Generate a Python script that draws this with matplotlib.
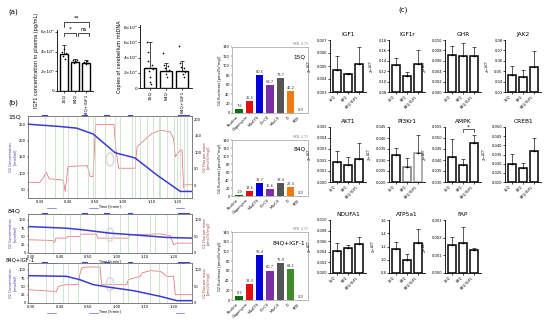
import matplotlib
matplotlib.use("Agg")
import matplotlib.pyplot as plt
from matplotlib.patches import Ellipse
import numpy as np

W, H = 550, 322
fig = plt.figure(figsize=(5.5, 3.22), dpi=100)
plt.rcParams['font.family'] = ['DejaVu Sans']

def ax_at(x0, y0, x1, y1):
    return fig.add_axes([x0 / W, 1 - y1 / H, (x1 - x0) / W, (y1 - y0) / H])

groups = ["15Q", "84Q", "84Q+IGF1"]

# ---------------- panel (a) ----------------
igf1_plasma = [38000, 29800, 28400]
igf1_plasma_err = [8700, 2800, 2600]
igf1_plasma_pts = [[40000, 36000, 43000, 33000, 39000],
                   [31000, 28000, 30500, 29000, 32000],
                   [29000, 27500, 30500, 28000]]
mtdna = [2.7, 2.3, 2.3]
mtdna_err = [3.4, 1.0, 1.3]
mtdna_pts = [[6.1, 4.8, 3.5, 2.2, 1.5, 0.8, 0.5, 3.0, 2.5],
             [4.6, 3.0, 2.6, 2.2, 1.8, 1.5, 2.9, 2.4],
             [5.5, 3.3, 2.8, 2.3, 1.9, 1.4, 2.6, 2.1]]

def small_bar(ax, vals, errs, pts, ymax, ticks, ticklabels, fs=3.2):
    x = np.arange(len(vals))
    ax.bar(x, vals, width=0.75, facecolor='white', edgecolor='black', linewidth=1.0, zorder=2)
    ax.errorbar(x, vals, yerr=[np.zeros(len(errs)), errs], fmt='none', ecolor='black',
                elinewidth=0.5, capsize=1.2, capthick=0.5, zorder=3)
    if pts is not None:
        for i, p in enumerate(pts):
            offs = np.linspace(-0.18, 0.18, len(p))
            ax.scatter(i + offs, p, s=1.4, color='black', zorder=4, linewidths=0)
    ax.set_xlim(-0.6, len(vals) - 0.4)
    ax.set_ylim(ticks[0], ymax)
    ax.set_yticks(ticks)
    ax.set_yticklabels(ticklabels, fontsize=fs)
    ax.set_xticks(x)
    ax.spines['top'].set_visible(False)
    ax.spines['right'].set_visible(False)
    for s in ['left', 'bottom']:
        ax.spines[s].set_linewidth(0.6)
    ax.tick_params(length=1.2, width=0.5, pad=0.8)

axa1 = ax_at(57, 30, 93, 91)
small_bar(axa1, igf1_plasma, igf1_plasma_err, igf1_plasma_pts, 62000,
          [0, 20000, 40000, 60000], ["0", "2×10⁴", "4×10⁴", "6×10⁴"])
axa1.set_xticklabels(groups, rotation=90, fontsize=3.2)
axa1.set_ylabel("IGF1 concentration in plasma (pg/mL)", fontsize=3.6, labelpad=1)

def bracket(fig_x0, fig_x1, y, txt, drop=4):
    fig.add_artist(plt.Line2D([fig_x0 / W, fig_x0 / W, fig_x1 / W, fig_x1 / W],
                              [1 - (y + drop) / H, 1 - y / H, 1 - y / H, 1 - (y + drop) / H],
                              color='black', lw=0.5))
    fig.text((fig_x0 + fig_x1) / 2 / W, 1 - (y - 1) / H, txt, fontsize=4, ha='center', va='bottom')
bracket(64, 89, 22, "**", drop=5)
bracket(64, 76, 33, "*", drop=3)
bracket(78, 89, 33, "ns", drop=3)

axa2 = ax_at(140, 25, 192, 88)
small_bar(axa2, mtdna, mtdna_err, mtdna_pts, 8.3,
          [0, 2, 4, 6, 8], ["0", "2×10⁵", "4×10⁵", "6×10⁵", "8×10⁵"])
axa2.set_xticklabels(groups, rotation=90, fontsize=3.2)
axa2.set_ylabel("Copies of cerebellum mtDNA", fontsize=3.6, labelpad=1)

fig.text(8 / W, 1 - 12 / H, "(a)", fontsize=5, va='center')
fig.text(8 / W, 1 - 103 / H, "(b)", fontsize=5, va='center')
fig.text(398 / W, 1 - 10 / H, "(c)", fontsize=5, va='center')

# ---------------- panel (b) oxygraph traces ----------------
ticks_15 = [7, 24.5, 41, 58, 75.5, 91]
ticks_84 = [2, 19.4, 36.7, 54.1, 71.4, 88.8]
tick_lab = ["0:30", "0:40", "0:50", "1:00", "1:10", "1:20"]

t15_blue = [0, 19.4, 29.6, 39.8, 53.1, 65.3, 78.6, 92.9, 100]
o2_15_blue = [250, 243, 238, 220, 163, 147, 95, 45, 45]
t15_red = [0, 7.1, 9.2, 11.2, 12.9, 20.4, 21.4, 22.0, 22.7, 24.3, 36.1, 38.0, 39.6, 40.0,
           41.2, 52.4, 53.5, 55.3, 65.3, 66.5, 72.0, 75.5, 80.6, 86.7, 88.8, 89.8, 92.9,
           93.9, 94.9, 95.9, 100]
fl_15_red = [10, 9, 22, 40, 20, 17, 14, 2, -18, 57, 60, 27, 27, 60,
             184, 184, 112, 52, 52, 117, 142, 157, 167, 162, 142, 87, 107, 107, -8, 2, 2]

t84_blue = [0, 23.5, 33.7, 50, 64.3, 84.7, 100]
o2_84_blue = [80, 75, 70, 60, 55, 47, 45]
t84_red = [0, 15.3, 16.3, 17.0, 23.5, 24.0, 31.6, 32.2, 41.8, 42.5, 61.2, 62.0, 80.6, 86.7,
           88.8, 90.8, 100]
fl_84_red = [40, 38, 32, 45, 45, 50, 50, 57, 57, 45, 45, 55, 58, 52, 25, 30, 30]

tig_blue = [0, 23.5, 31.6, 39.8, 50, 64.3, 80.6, 90.8, 100]
o2_ig_blue = [82, 80, 70, 55, 47, 37, 20, 7, 7]
tig_red = [0, 15.3, 17.3, 18.4, 23.5, 30.6, 31.6, 32.7, 35.7, 43.9, 44.9, 60.2, 61.2, 68.4,
           69.4, 74.5, 80.6, 84.7, 88.8, 89.8, 100]
fl_ig_red = [40, 35, 33, 50, 55, 55, 85, 105, 108, 108, 55, 55, 70, 80, 90, 97, 95, 80, 80, 25, 25]

events_15 = [10.2, 16.3, 21.4, 24.5, 29.6, 36.7, 39.8, 40.8, 46.9, 53.1, 56.1, 63.3, 65.3,
             68.4, 72.4, 76.5, 79.6, 80.6, 84.7, 88.8, 90.8, 92.9, 94.9, 96.9]
events_84 = [10.2, 15.3, 22.4, 25.5, 31.6, 40.8, 49, 56.1, 61.2, 66.3, 74.5, 77.6, 84.7, 90.8]
events_ig = [11.2, 15.3, 21.4, 24.5, 30.6, 42.9, 50, 58.2, 61.2, 67.3, 74.5, 79.6, 84.7, 92.9]
marks_top = [10.2, 34.7, 47.9, 62.2, 92.9, 96.9]
marks_bot = [14.3, 40.0, 92.9]

def trace(y0, y1, tb, ob, tr, fr, ev, bl, rl, lticks, rticks, xt):
    ax = ax_at(28, y0, 192, y1)
    hpx = y1 - y0
    for i, e in enumerate(ev):
        c = '#b8dcb8' if i % 3 else '#d0d0d0'
        ax.axvline(e, color=c, lw=0.5, zorder=0)
    ax.add_patch(Ellipse((0.5, 0.47), 0.045, 0.16 * 82 / hpx, transform=ax.transAxes,
                         facecolor='none', edgecolor='#dddddd', lw=1.2, zorder=1))
    ax.plot(tb, ob, color='#3a3ad6', lw=1.1, zorder=3)
    ax.set_xlim(0, 100)
    ax.set_ylim(*bl)
    ax.set_yticks(lticks)
    ax.tick_params(labelsize=2.6, length=1, width=0.3, pad=0.6)
    ax.set_xticks(xt)
    ax.set_xticklabels(tick_lab)
    for s in ax.spines.values():
        s.set_linewidth(0.4)
        s.set_color('#666666')
    ax.set_ylabel("O2 Concentration\n[nmol/ml]", fontsize=2.4, labelpad=1, color='#333399')
    tr_x = ax.get_xaxis_transform()
    ax.text(50, -6.3 / hpx, "Time [h:min]", fontsize=2.4, ha='center', va='top',
            transform=tr_x)
    for m in marks_top:
        ax.plot([m - 1.5, m + 1.5], [1.0 + 0.8 / hpx] * 2, color='#4444cc', lw=0.8,
                transform=tr_x, clip_on=False)
    for m in marks_bot:
        ax.plot([m - 2.5, m + 2.5], [-9.5 / hpx] * 2, color='#6666dd', lw=0.5,
                transform=tr_x, clip_on=False)
    ax2 = ax.twinx()
    ax2.plot(tr, fr, color='#e87070', lw=0.55, zorder=2)
    ax2.set_ylim(*rl)
    ax2.set_yticks(rticks)
    ax2.tick_params(labelsize=2.6, length=1, width=0.3, pad=0.6)
    ax2.set_ylabel("O2 Flux per mass\n[pmol/(s*mg)]", fontsize=2.4, labelpad=1, color='#993333')
    for s in ax2.spines.values():
        s.set_linewidth(0.4)
        s.set_color('#666666')
    ax.set_zorder(ax2.get_zorder() + 1)
    ax.patch.set_visible(False)
    return ax

trace(116, 198, t15_blue, o2_15_blue, t15_red, fl_15_red, events_15,
      (25, 275), (-38, 210), [50, 100, 150, 200, 250], [0, 50, 100, 150, 200], ticks_15)
trace(214, 253, t84_blue, o2_84_blue, t84_red, fl_84_red, events_84,
      (0, 118), (0, 118), [0, 25, 50, 75, 100], [0, 50, 100], ticks_84)
trace(263, 303, tig_blue, o2_ig_blue, tig_red, fl_ig_red, events_ig,
      (0, 120), (0, 120), [0, 25, 50, 75, 100], [0, 50, 100], ticks_84)
fig.text(8 / W, 1 - 117 / H, "15Q", fontsize=4.5, va='center')
fig.text(8 / W, 1 - 211 / H, "84Q", fontsize=4.5, va='center')
fig.text(6 / W, 1 - 260.5 / H, "84Q+IGF-1", fontsize=3.8, va='center')

# ---------------- O2 flux bar charts ----------------
states = ["Routine", "Oligomycin", "MaxETS", "CI+CII", "MaxCII", "CI", "ROX"]
flux_15q = [7.6, 25.5, 80.5, 58.7, 73.7, 46.2, 0.0]
flux_84q = [1.9, 13.6, 31.7, 16.6, 33.4, 22.4, 0.0]
flux_igf = [8.3, 33.3, 92.4, 60.7, 75.9, 64.1, 0.0]
cols_a = ['#0a6e0a', '#e01010', '#0000dd', '#7a2fa8', '#555555', '#ee7a10', '#ffffff']
cols_c = ['#0a6e0a', '#e01010', '#0000dd', '#7a2fa8', '#555555', '#3f8a2a', '#ffffff']

def fluxbar(y0, y1, vals, cols, label):
    ax = ax_at(232, y0, 308, y1)
    x = np.arange(len(vals))
    ax.bar(x, vals, width=0.72, color=cols, edgecolor='none')
    for xi, v in zip(x, vals):
        ax.text(xi, v + 2.5, f"{v:.1f}", fontsize=2.6, ha='center', va='bottom', color='#333333')
    ax.set_xlim(-0.7, len(vals) - 0.3)
    ax.set_ylim(0, 140)
    ax.set_yticks(range(0, 141, 20))
    ax.set_xticks(x)
    ax.set_xticklabels(states, rotation=45, ha='right', fontsize=2.5)
    ax.tick_params(labelsize=2.5, length=1, width=0.3, pad=0.6)
    for s in ax.spines.values():
        s.set_linewidth(0.4)
        s.set_color('#888888')
    ax.set_ylabel("O2 flux/mass [pmol/(s*mg)]", fontsize=2.5, labelpad=1)
    ax.text(0.97, 0.88, label, transform=ax.transAxes, fontsize=4.2, ha='right', va='top')
    ax.text(1.0, 1.02, "RKN: 4.73", transform=ax.transAxes, fontsize=2.2, ha='right',
            va='bottom', color='#888888')

fluxbar(47, 113, flux_15q, cols_a, "15Q")
fluxbar(140, 196, flux_84q, cols_a, "84Q")
fluxbar(232, 300, flux_igf, cols_c, "84Q+IGF-1")

# ---------------- panel (c) qPCR ----------------
genes = ["IGF1", "IGF1r", "GHR", "JAK2", "AKT1", "PI3Kr1", "AMPK", "CREB1",
         "NDUFA1", "ATP5a1", "FAP"]
expr = {
    "IGF1":   [0.0047, 0.0044, 0.00515],
    "IGF1r":  [0.1316, 0.111, 0.133],
    "GHR":    [0.0072, 0.0070, 0.0069],
    "JAK2":   [0.0464, 0.0448, 0.0537],
    "AKT1":   [0.0018, 0.00158, 0.00206],
    "PI3Kr1": [0.0325, 0.027, 0.033],
    "AMPK":   [0.0412, 0.0378, 0.0478],
    "CREB1":  [0.030, 0.0278, 0.0369],
    "NDUFA1": [0.0042, 0.0048, 0.0054],
    "ATP5a1": [1.165, 1.0, 1.26],
    "FAP":    [0.00161, 0.00167, 0.00129],
}
expr_top = {
    "IGF1":   [0.0058, 0.0045, 0.0065],
    "IGF1r":  [0.146, 0.118, 0.161],
    "GHR":    [0.0089, 0.0094, 0.0086],
    "JAK2":   [0.0547, 0.0507, 0.069],
    "AKT1":   [0.0028, 0.00225, 0.00355],
    "PI3Kr1": [0.0356, 0.031, 0.0415],
    "AMPK":   [0.0495, 0.0403, 0.0514],
    "CREB1":  [0.0355, 0.0305, 0.0442],
    "NDUFA1": [0.0056, 0.0053, 0.0068],
    "ATP5a1": [1.27, 1.09, 1.46],
    "FAP":    [0.00205, 0.0026, 0.0014],
}
yticks_c = {
    "IGF1":   [0.003, 0.004, 0.005, 0.006, 0.007],
    "IGF1r":  [0.08, 0.10, 0.12, 0.14, 0.16, 0.18],
    "GHR":    [0.000, 0.002, 0.004, 0.006, 0.008, 0.010],
    "JAK2":   [0.03, 0.04, 0.05, 0.06, 0.07, 0.08],
    "AKT1":   [0.000, 0.001, 0.002, 0.003, 0.004, 0.005],
    "PI3Kr1": [0.020, 0.025, 0.030, 0.035, 0.040, 0.045],
    "AMPK":   [0.030, 0.035, 0.040, 0.045, 0.050, 0.055],
    "CREB1":  [0.020, 0.025, 0.030, 0.035, 0.040, 0.045, 0.050],
    "NDUFA1": [0.000, 0.002, 0.004, 0.006, 0.008, 0.010],
    "ATP5a1": [0.8, 1.0, 1.2, 1.4, 1.6],
    "FAP":    [0.000, 0.001, 0.002, 0.003],
}
col_x = [330, 389, 445, 505]
row_y = [(40, 92), (127, 182), (220, 273)]
grey_bars = {"PI3Kr1"}

for gi, g in enumerate(genes):
    r, c = divmod(gi, 4)
    x0 = col_x[c]
    y0, y1 = row_y[r]
    ax = ax_at(x0, y0, x0 + 36, y1)
    vals = expr[g]
    errs = [t - v for t, v in zip(expr_top[g], vals)]
    ticks = yticks_c[g]
    x = np.arange(3)
    ecs = ['black', '#777777', '#999999'] if g in grey_bars else ['black'] * 3
    ax.bar(x, np.array(vals) - ticks[0], bottom=ticks[0], width=0.72, facecolor='white',
           edgecolor=ecs, linewidth=1.1, zorder=2)
    ax.errorbar(x, vals, yerr=[[0, 0, 0], errs], fmt='none', ecolor='black',
                elinewidth=0.45, capsize=1.2, capthick=0.45, zorder=3)
    ax.scatter(x, vals, s=1.5, color='black', zorder=4, linewidths=0)
    ax.set_xlim(-0.6, 2.6)
    ax.set_ylim(ticks[0], ticks[-1])
    ax.set_yticks(ticks)
    dec = max(len(f"{t:g}".split('.')[-1]) if '.' in f"{t:g}" else 0 for t in ticks)
    ax.set_yticklabels([f"{t:.{dec}f}" for t in ticks], fontsize=2.6)
    ax.set_xticks(x)
    ax.set_xticklabels(["15Q", "84Q", "84Q/IGF1"], rotation=45, ha='right', fontsize=2.6)
    ax.spines['top'].set_visible(False)
    ax.spines['right'].set_visible(False)
    for s in ['left', 'bottom']:
        ax.spines[s].set_linewidth(0.6)
    ax.tick_params(length=1.2, width=0.5, pad=0.6)
    ax.set_title(g, fontsize=4.2, pad=3)
    ax.set_ylabel("2$^{-ΔCT}$", fontsize=3, labelpad=1)
    if g == "AMPK":
        span = ticks[-1] - ticks[0]
        yb = ticks[-1] - span * 0.04
        ax.plot([1, 1, 2, 2], [yb - span * 0.05, yb, yb, yb - span * 0.05], color='black',
                lw=0.45, clip_on=False)
        ax.text(1.5, yb, "*", fontsize=4, ha='center', va='bottom')

fig.savefig("out.png", dpi=100)
